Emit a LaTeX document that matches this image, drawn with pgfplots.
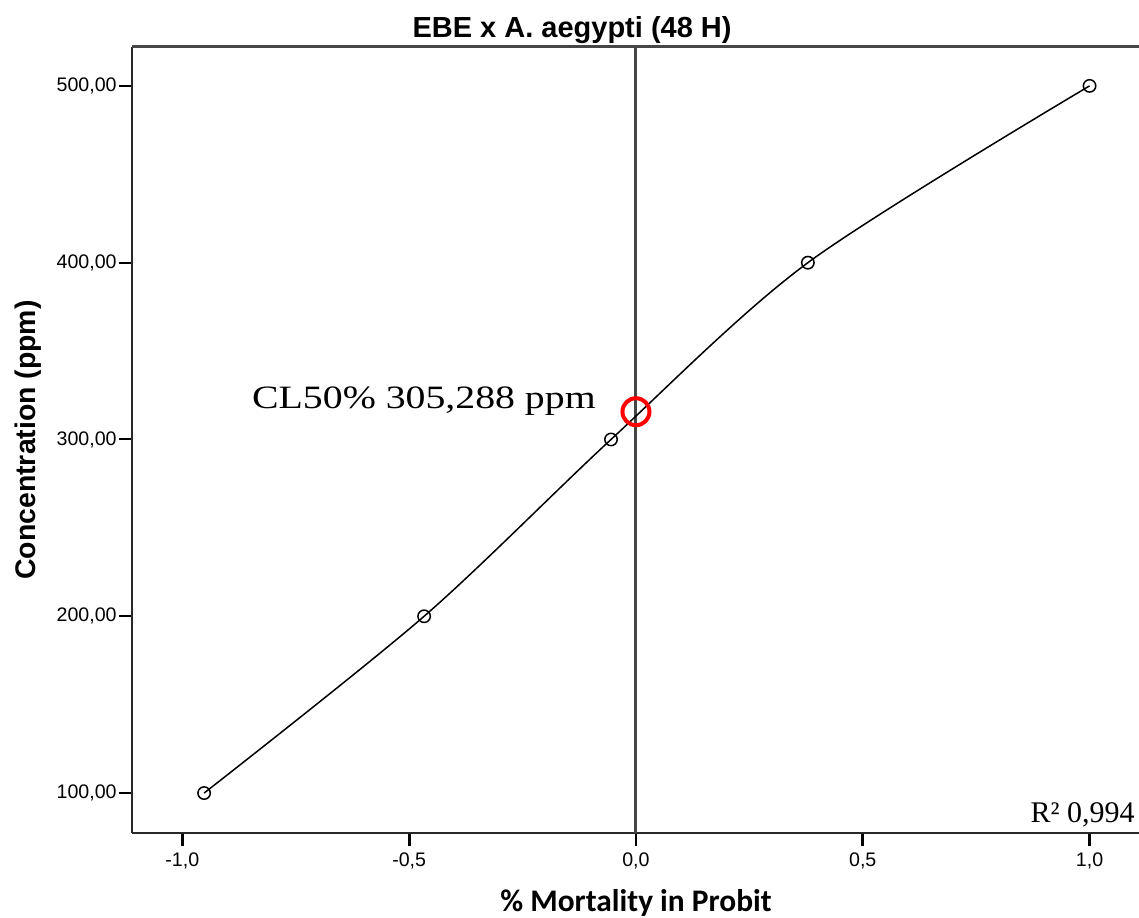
\documentclass[border=0pt]{standalone}
\usepackage{fontspec}
\setmainfont{Liberation Sans}
\newfontfamily\tnrfont{Liberation Serif}
\newfontfamily\calfont{Carlito}
\usepackage{graphicx}
\usepackage{pgfplots}
\pgfplotsset{compat=1.18}
\definecolor{axisgray}{RGB}{40,40,40}
\definecolor{refgray}{RGB}{70,70,70}

\begin{document}
\begin{tikzpicture}
\begin{axis}[
    width=503.5pt, height=393pt, scale only axis,
    xmin=-1.111, xmax=1.109,
    ymin=77.4, ymax=522,
    axis x line=bottom, axis y line=left,
    axis line style={-, line width=0.9pt, color=axisgray},
    tick align=outside,
    major tick length=6.5pt,
    x tick style={line width=1.4pt, color=black},
    y tick style={line width=1pt, color=black},
    xtick={-1,-0.5,0,0.5,1},
    xticklabels={{-1,0},{-0,5},{0,0},{0,5},{1,0}},
    ytick={100,200,300,400,500},
    yticklabels={{100,00},{200,00},{300,00},{400,00},{500,00}},
    ticklabel style={font=\fontsize{9.8}{11}\selectfont},
    yticklabel style={inner xsep=1pt},
    xlabel={\calfont\bfseries\fontsize{15.7}{18}\selectfont \% Mortality in Probit},
    xlabel style={at={(axis description cs:0.5005,-0.1000)}, anchor=base},
    ylabel={\bfseries\fontsize{14.2}{17}\selectfont Concentration (ppm)},
    ylabel style={at={(axis description cs:-0.0963,0.5)}, anchor=base},
    title={\bfseries\fontsize{14.5}{17}\selectfont EBE x A. aegypti (48 H)},
    title style={at={(axis description cs:0.437,1.0127)}, anchor=base, yshift=-6pt},
    clip=false,
]

% reference line at probit 0
\addplot[color=refgray, line width=1.5pt] coordinates {(0,77.4) (0,522)};

% concentration vs probit mortality
\addplot[color=black, line width=0.75pt, smooth, mark=o,
         mark size=3.1pt, mark options={line width=0.75pt}] coordinates {
    (-0.952,100) (-0.467,200) (-0.055,300) (0.379,400) (1.0,500)
};

% CL50 marker
\addplot[only marks, mark=o, mark size=6.75pt,
         mark options={color=red, line width=2pt}] coordinates {(0,315.7)};

\node[anchor=base west, inner sep=0pt] at (axis cs:-0.847,317.8)
    {\scalebox{1.22}[1]{\tnrfont\fontsize{16.3}{18}\selectfont CL50\% 305,288 ppm}};
\node[anchor=base east, inner sep=0pt] at (axis cs:1.100,83.6)
    {\tnrfont\fontsize{15}{17}\selectfont R² 0,994};

% top frame line
\draw[color=refgray, line width=1.5pt] (rel axis cs:0,1) -- (rel axis cs:1,1);
\end{axis}
\pgfresetboundingbox
\useasboundingbox ([xshift=-66pt,yshift=-42pt]current axis.south west)
    rectangle ([yshift=23.5pt]current axis.north east);
\end{tikzpicture}
\end{document}
